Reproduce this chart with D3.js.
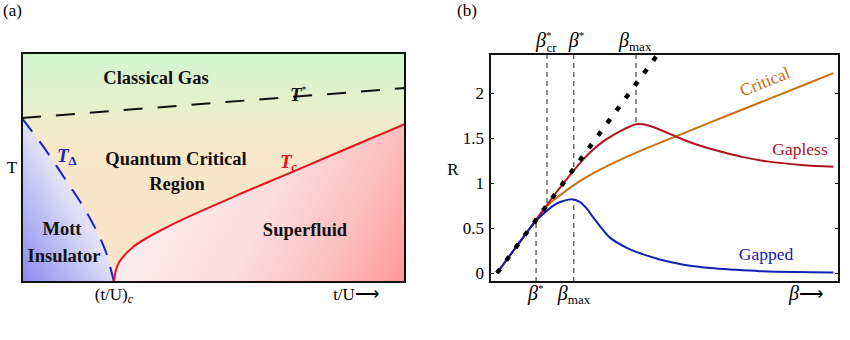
<!DOCTYPE html>
<html>
<head>
<meta charset="utf-8">
<script src="https://cdn.jsdelivr.net/npm/d3@7"></script>
<style>
  body { margin: 0; background: #fff; }
  text { font-family: "Liberation Serif", "Times New Roman", serif; }
</style>
</head>
<body>
<div id="chart"></div>
<script>
// ---------- panel (a): phase boundaries, x = t/U (0..1), y = T (0..1)
var tStarX = [0, 1];
var tStarT = [0.716, 0.847];
var tDeltaX = [0, 0.060, 0.1175, 0.170, 0.217, 0.240];
var tDeltaT = [0.716, 0.581, 0.437, 0.301, 0.140, 0];
var tcX = [0.240, 0.244, 0.254, 0.290, 0.379, 0.551, 0.726, 0.901, 1.0];
var tcT = [0, 0.044, 0.087, 0.153, 0.240, 0.371, 0.495, 0.620, 0.690];
var tuCritical = 0.24;

// ---------- panel (b): R versus beta
var betaGapped = [0, 0.3, 0.59, 0.75, 0.9, 1.0, 1.13, 1.25, 1.35, 1.45, 1.6, 1.71, 1.96, 2.2, 2.46, 2.8, 3.22, 3.6, 3.97, 4.5, 5.08];
var rGapped    = [0, 0.3, 0.58, 0.69, 0.77, 0.80, 0.82, 0.79, 0.72, 0.62, 0.48, 0.39, 0.28, 0.21, 0.15, 0.095, 0.055, 0.035, 0.02, 0.01, 0.005];
var betaCritical = [0, 0.3, 0.6, 0.755, 1.0, 1.25, 1.5, 1.86, 2.3, 2.72, 3.5, 4.3, 5.08];
var rCritical    = [0, 0.3, 0.6, 0.745, 0.89, 1.02, 1.127, 1.257, 1.398, 1.524, 1.755, 1.99, 2.22];
var betaGapless = [0, 0.3, 0.6, 0.9, 1.16, 1.3, 1.45, 1.6, 1.75, 1.9, 2.0, 2.1, 2.2, 2.3, 2.5, 2.72, 3.0, 3.32, 3.7, 4.08, 4.6, 5.08];
var rGapless    = [0, 0.3, 0.6, 0.9, 1.14, 1.26, 1.37, 1.46, 1.53, 1.59, 1.625, 1.652, 1.652, 1.635, 1.58, 1.51, 1.43, 1.36, 1.29, 1.24, 1.20, 1.18];
var betaClassical = [0, 2.6];
var rClassical    = [0, 2.6];
var topMarkBeta = [0.755, 1.16, 2.1];
var topMarkR    = [0.76, 1.15, 1.652];
var bottomMarkBeta = [0.59, 1.16];
var bottomMarkR    = [0.58, 0.81];
var rTicks = [0, 0.5, 1, 1.5, 2];

function zip(a, b) { return a.map(function(d, i) { return [d, b[i]]; }); }

var svg = d3.select("#chart")
    .append("svg")
    .attr("width", 850)
    .attr("height", 340);

var defs = svg.append("defs");

// background gradients
var bgGrad = defs.append("linearGradient")
    .attr("id", "bgA").attr("gradientUnits", "userSpaceOnUse")
    .attr("x1", 0).attr("y1", 53).attr("x2", 0).attr("y2", 282);
[[0, "#d3f5d1"], [0.18, "#e1f2cd"], [0.3, "#eeedcb"], [0.42, "#f8e7c9"], [1, "#fbe3c8"]].forEach(function(s) {
    bgGrad.append("stop").attr("offset", s[0]).attr("stop-color", s[1]);
});
var mottGrad = defs.append("linearGradient")
    .attr("id", "mottG").attr("gradientUnits", "userSpaceOnUse")
    .attr("x1", 22).attr("y1", 282).attr("x2", 110).attr("y2", 230);
[[0, "#8a8af0"], [0.5, "#bebef4"], [0.8, "#e0def6"], [1, "#efe8f3"]].forEach(function(s) {
    mottGrad.append("stop").attr("offset", s[0]).attr("stop-color", s[1]);
});
var sfGrad = defs.append("linearGradient")
    .attr("id", "sfG").attr("gradientUnits", "userSpaceOnUse")
    .attr("x1", 150).attr("y1", 150).attr("x2", 405).attr("y2", 282);
[[0, "#faeff2"], [0.45, "#fcdddd"], [0.75, "#fdbebe"], [1, "#ff9898"]].forEach(function(s) {
    sfGrad.append("stop").attr("offset", s[0]).attr("stop-color", s[1]);
});

// ================= panel (a)
var xA = d3.scaleLinear().domain([0, 1]).range([22, 405]);
var yA = d3.scaleLinear().domain([0, 1]).range([282, 53]);

var lineA = d3.line()
    .x(function(d) { return xA(d[0]); })
    .y(function(d) { return yA(d[1]); });
var smoothA = d3.line()
    .curve(d3.curveCatmullRom)
    .x(function(d) { return xA(d[0]); })
    .y(function(d) { return yA(d[1]); });

var gA = svg.append("g");

gA.append("rect")
    .attr("x", xA(0)).attr("y", yA(1))
    .attr("width", xA(1) - xA(0)).attr("height", yA(0) - yA(1))
    .style("fill", "url(#bgA)");

// Mott insulator region
gA.append("path")
    .attr("d", smoothA(zip(tDeltaX, tDeltaT)) + "L" + xA(0) + "," + yA(0) + "Z")
    .style("fill", "url(#mottG)");

// superfluid region
gA.append("path")
    .attr("d", smoothA(zip(tcX, tcT)) + "L" + xA(1) + "," + yA(0) + "Z")
    .style("fill", "url(#sfG)");

// T* crossover
gA.append("path")
    .attr("d", lineA(zip(tStarX, tStarT)))
    .style("fill", "none").style("stroke", "#111")
    .style("stroke-width", 2).style("stroke-dasharray", "19,15");

// T_Delta
gA.append("path")
    .attr("d", smoothA(zip(tDeltaX, tDeltaT)))
    .style("fill", "none").style("stroke", "#1a22c8")
    .style("stroke-width", 2).style("stroke-dasharray", "17,12");

// T_c
gA.append("path")
    .attr("d", smoothA(zip(tcX, tcT)))
    .style("fill", "none").style("stroke", "#e8141c")
    .style("stroke-width", 2);

gA.append("rect")
    .attr("x", xA(0)).attr("y", yA(1))
    .attr("width", xA(1) - xA(0)).attr("height", yA(0) - yA(1))
    .style("fill", "none").style("stroke", "#111").style("stroke-width", 2);

// region labels
function bold(x, y, s) {
    return gA.append("text").attr("x", x).attr("y", y)
        .attr("text-anchor", "middle")
        .style("font-size", "18.5px").style("font-weight", "bold")
        .style("fill", "#111").text(s);
}
bold(156, 84, "Classical Gas");
bold(176, 165, "Quantum Critical");
bold(177, 190, "Region");
bold(62, 235, "Mott");
bold(64, 262, "Insulator");
bold(305, 236, "Superfluid");

var tS = gA.append("text").attr("x", 290).attr("y", 101)
    .style("font-size", "19px").style("fill", "#111");
tS.append("tspan").style("font-weight", "bold").style("font-style", "italic").text("T");
tS.append("tspan").attr("dy", -8).style("font-size", "10px").text("*");

var tD = gA.append("text").attr("x", 57).attr("y", 162)
    .style("font-size", "19px").style("fill", "#1a22c8")
    .style("font-weight", "bold");
tD.append("tspan").style("font-style", "italic").text("T");
tD.append("tspan").attr("dy", 3).style("font-size", "13px").text("\u0394");

var tCl = gA.append("text").attr("x", 280).attr("y", 168)
    .style("font-size", "19px").style("fill", "#e8141c")
    .style("font-weight", "bold").style("font-style", "italic");
tCl.append("tspan").text("T");
tCl.append("tspan").attr("dy", 3).style("font-size", "12px").text("c");

gA.append("text").attr("x", 12).attr("y", 173)
    .attr("text-anchor", "middle").style("font-size", "17px").text("T");

var tuc = gA.append("text").attr("x", xA(tuCritical)).attr("y", 300)
    .attr("text-anchor", "middle").style("font-size", "17px");
tuc.append("tspan").text("(t/U)");
tuc.append("tspan").attr("dy", 3).style("font-size", "12px").style("font-style", "italic").text("c");

gA.append("text").attr("x", 356).attr("y", 300)
    .attr("text-anchor", "middle").style("font-size", "17px").text("t/U\u27F6");

gA.append("text").attr("x", 3).attr("y", 16).style("font-size", "17px").text("(a)");

// ================= panel (b)
var xB = d3.scaleLinear().domain([-0.106, 5.166]).range([490, 839]);
var yB = d3.scaleLinear().domain([-0.1, 2.433]).range([282, 54]);

var lineB = d3.line()
    .curve(d3.curveCatmullRom)
    .x(function(d) { return xB(d[0]); })
    .y(function(d) { return yB(d[1]); });

var gB = svg.append("g");

defs.append("clipPath").attr("id", "clipB")
    .append("rect")
    .attr("x", xB.range()[0]).attr("y", yB.range()[1])
    .attr("width", xB.range()[1] - xB.range()[0])
    .attr("height", yB.range()[0] - yB.range()[1]);

// marker lines
gB.selectAll(".topMark")
    .data(topMarkBeta)
    .enter().append("line")
    .attr("x1", function(d) { return xB(d); })
    .attr("x2", function(d) { return xB(d); })
    .attr("y1", yB.range()[1])
    .attr("y2", function(d, i) { return yB(topMarkR[i]); })
    .style("stroke", "#222").style("stroke-width", 1).style("stroke-dasharray", "5,4");
gB.selectAll(".botMark")
    .data(bottomMarkBeta)
    .enter().append("line")
    .attr("x1", function(d) { return xB(d); })
    .attr("x2", function(d) { return xB(d); })
    .attr("y1", yB.range()[0])
    .attr("y2", function(d, i) { return yB(bottomMarkR[i]); })
    .style("stroke", "#222").style("stroke-width", 1).style("stroke-dasharray", "5,4");

var curves = gB.append("g").attr("clip-path", "url(#clipB)");
curves.append("path").attr("d", lineB(zip(betaCritical, rCritical)))
    .style("fill", "none").style("stroke", "#c8700e").style("stroke-width", 2);
curves.append("path").attr("d", lineB(zip(betaGapless, rGapless)))
    .style("fill", "none").style("stroke", "#b0121e").style("stroke-width", 2);
curves.append("path").attr("d", lineB(zip(betaGapped, rGapped)))
    .style("fill", "none").style("stroke", "#1420b4").style("stroke-width", 2);
curves.append("path").attr("d", d3.line().x(function(d) { return xB(d[0]); }).y(function(d) { return yB(d[1]); })(zip(betaClassical, rClassical)))
    .style("fill", "none").style("stroke", "#000").style("stroke-width", 4.5)
    .style("stroke-dasharray", "5,10.5");

// axes
gB.append("g")
    .attr("transform", "translate(" + xB.range()[0] + ",0)")
    .style("font-size", "17px").style("font-family", "Liberation Serif, serif")
    .call(d3.axisLeft(yB).tickValues(rTicks).tickSize(-4).tickPadding(6).tickFormat(d3.format("~g")))
    .call(function(g) { g.select(".domain").remove(); });
gB.append("g")
    .attr("transform", "translate(" + xB.range()[1] + ",0)")
    .call(d3.axisRight(yB).tickValues(rTicks).tickSize(-4).tickFormat(""))
    .call(function(g) { g.select(".domain").remove(); });

gB.append("rect")
    .attr("x", xB.range()[0]).attr("y", yB.range()[1])
    .attr("width", xB.range()[1] - xB.range()[0])
    .attr("height", yB.range()[0] - yB.range()[1])
    .style("fill", "none").style("stroke", "#111").style("stroke-width", 2);

// beta labels
function betaLabel(x, y, sup, sub) {
    var t = gB.append("text").attr("x", x).attr("y", y).style("font-size", "20px");
    t.append("tspan").style("font-style", "italic").text("\u03B2");
    if (sup) t.append("tspan").attr("dy", -8).style("font-size", "11px").text("*");
    if (sub) t.append("tspan").attr("dx", sup ? -5 : 0).attr("dy", sup ? 13 : 4).style("font-size", "13px").text(sub);
    return t;
}
betaLabel(xB(topMarkBeta[0]) - 11, 47, true, "cr");
betaLabel(xB(topMarkBeta[1]) - 5, 47, true, null);
betaLabel(xB(topMarkBeta[2]) - 17, 47, false, "max");
betaLabel(xB(bottomMarkBeta[0]) - 8, 300, true, null);
betaLabel(xB(bottomMarkBeta[1]) - 16, 300, false, "max");

var bArrow = gB.append("text").attr("x", 789).attr("y", 300).style("font-size", "20px");
bArrow.append("tspan").style("font-style", "italic").text("\u03B2");
bArrow.append("tspan").style("font-size", "17px").text("\u27F6");

gB.append("text").attr("x", 453).attr("y", 175)
    .attr("text-anchor", "middle").style("font-size", "17px").text("R");
gB.append("text").attr("x", 457).attr("y", 16).style("font-size", "17px").text("(b)");

gB.append("text")
    .attr("transform", "translate(767,87) rotate(-22)")
    .attr("text-anchor", "middle").style("font-size", "17.5px")
    .style("fill", "#c8700e").text("Critical");
gB.append("text").attr("x", 800).attr("y", 155)
    .attr("text-anchor", "middle").style("font-size", "17.5px")
    .style("fill", "#b0121e").text("Gapless");
gB.append("text").attr("x", 766).attr("y", 260)
    .attr("text-anchor", "middle").style("font-size", "17.5px")
    .style("fill", "#1420b4").text("Gapped");
</script>
</body>
</html>
